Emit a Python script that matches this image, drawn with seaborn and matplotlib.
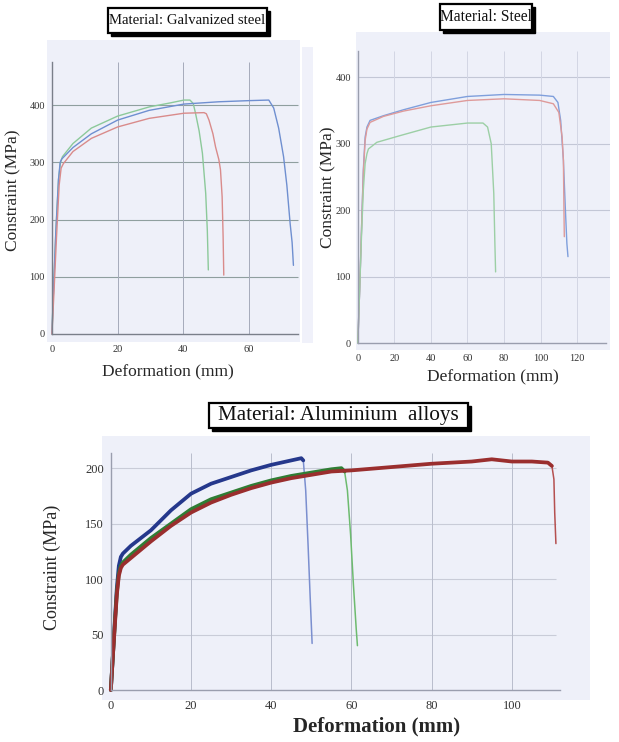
import numpy as np
import pandas as pd
import matplotlib
matplotlib.use("Agg")
import matplotlib.pyplot as plt
import seaborn as sns
from matplotlib.patches import Rectangle
from matplotlib.ticker import MultipleLocator

# ---------------- data ----------------
# Galvanized steel (top-left)
gal_green_x = [0, 0.5, 1.2, 2.0, 2.6, 3.2, 6.4, 12, 20, 29.6, 36, 40.2, 42.0, 43.0, 43.7, 44.8, 45.8, 46.8, 47.3, 47.6]
gal_green_y = [0, 80, 180, 270, 300, 310, 333, 360, 381, 397, 404, 409, 409, 403, 386, 355, 316, 246, 180, 112]
gal_blue_x = [0, 0.5, 1.2, 2.0, 2.5, 3.0, 6.4, 12, 20, 29.6, 40.2, 50.8, 60, 66, 67.5, 69, 70.5, 71.5, 72.5, 73.1, 73.5]
gal_blue_y = [0, 80, 180, 270, 300, 306, 326, 350, 374, 391, 402, 406, 408, 409, 395, 360, 310, 260, 193, 160, 120]
gal_red_x = [0, 0.6, 1.4, 2.2, 2.8, 3.5, 6.4, 12, 20, 29.6, 40.2, 46.3, 47.0, 47.8, 49.0, 49.8, 50.8, 51.3, 51.8, 52.1, 52.3]
gal_red_y = [0, 70, 170, 260, 290, 298, 319, 342, 362, 377, 386, 387, 385, 374, 350, 327, 305, 287, 240, 170, 103]

# Steel (top-right)
st_blue_x = [0, 1, 2, 3, 4, 5, 6.7, 14, 25, 40, 60, 80, 99.5, 107, 109.5, 111, 112.5, 113.6, 114.4, 115]
st_blue_y = [0, 80, 170, 260, 310, 325, 335, 342, 351, 362, 371, 374, 373, 371, 362, 335, 275, 200, 150, 130]
st_red_x = [0, 1, 2, 3, 4, 5, 6.7, 14, 25, 40, 60, 80, 99.5, 107, 110, 111.8, 112.5, 112.8, 113]
st_red_y = [0, 80, 170, 255, 305, 322, 332, 341, 349, 357, 365, 367.5, 365, 360, 347, 310, 275, 200, 160]
st_green_x = [0, 1, 2, 3, 4, 5, 5.8, 10.4, 23, 40, 60, 68.5, 71, 73, 74.4, 75, 75.4]
st_green_y = [0, 80, 160, 230, 270, 285, 292, 302, 312, 325, 331, 331, 325, 300, 225, 150, 107]

# Aluminium alloys (bottom) - plastic branch and fracture branch
al_blue_x = [0, 0.5, 1, 1.5, 2, 2.5, 3, 5, 10, 15, 20, 25, 30, 35, 40, 45, 47.5, 48.0]
al_blue_y = [0, 30, 62, 92, 112, 120, 123, 130, 144, 162, 177, 186, 192, 198, 203, 207, 209, 207]
al_blue_drop_x = [48.0, 48.6, 49.2, 49.7, 50.2]
al_blue_drop_y = [207, 180, 130, 85, 42]
al_green_x = [0, 0.5, 1, 1.5, 2, 2.5, 3, 5, 10, 15, 20, 25, 30, 35, 40, 45, 50, 55, 57.5, 58.3]
al_green_y = [0, 30, 60, 88, 105, 112, 115, 122, 137, 150, 163, 172, 178, 184, 189, 193, 196, 199, 200, 197]
al_green_drop_x = [58.3, 59.0, 59.8, 60.5, 61.2, 61.5]
al_green_drop_y = [197, 180, 140, 95, 55, 40]
al_red_x = [0, 0.5, 1, 1.5, 2, 2.5, 3, 5, 10, 15, 20, 25, 30, 35, 40, 45, 50, 55, 60, 70, 80, 90, 95, 100, 105, 109, 110]
al_red_y = [0, 30, 58, 86, 103, 110, 113, 119, 134, 148, 160, 169, 176, 182, 187, 191, 194, 197, 198, 201, 204, 206, 208, 206, 206, 205, 202]
al_red_drop_x = [110, 110.5, 110.7, 111.0]
al_red_drop_y = [202, 190, 160, 132]

titles = ["Material: Galvanized steel", "Material: Steel", "Material: Aluminium  alloys"]
xlabel = "Deformation (mm)"
ylabel = "Constraint (MPa)"


def frame(xs, ys, name):
    return pd.DataFrame({"x": xs, "y": ys, "s": name})


# ---------------- style ----------------
sns.set_theme(style="white")
plt.rcParams["font.family"] = ["Liberation Serif", "DejaVu Serif"]

W, H = 619, 742
fig = plt.figure(figsize=(W / 100, H / 100), dpi=100)
BG = "#eef0f9"


def px_axes(l, t, r, b):
    return fig.add_axes([l / W, 1 - b / H, (r - l) / W, (b - t) / H])


def style(ax, xlim, ylim, xmaj, xminor, ymaj, yminor, xspan, yspan,
          hcol, vcol, hspan, axcol, fs, xpad=3):
    ax.set_facecolor(BG)
    ax.set_xlim(*xlim)
    ax.set_ylim(*ylim)
    for s in ["top", "right"]:
        ax.spines[s].set_visible(False)
    for s in ["left", "bottom"]:
        ax.spines[s].set_position(("data", 0))
        ax.spines[s].set_color(axcol)
        ax.spines[s].set_linewidth(1.0)
    ax.spines["left"].set_bounds(0, yspan)
    ax.spines["bottom"].set_bounds(0, xspan)
    ax.set_xticks(xmaj)
    ax.set_yticks(ymaj)
    ax.xaxis.set_minor_locator(MultipleLocator(xminor))
    ax.yaxis.set_minor_locator(MultipleLocator(yminor))
    ax.tick_params(which="major", direction="inout", length=4, width=0.8,
                   color=axcol, labelsize=fs, labelcolor="#333333", pad=3)
    ax.tick_params(axis="x", which="major", pad=xpad)
    ax.tick_params(which="minor", direction="inout", length=3, width=0.7, color=axcol)
    ax.hlines(ymaj[1:], 0, hspan, colors=hcol, lw=0.8, zorder=0.5)
    ax.vlines(xmaj[1:], 0, yspan, colors=vcol, lw=0.7, zorder=0.5)
    ax.set_xlabel("")
    ax.set_ylabel("")


def title_box(l, t, r, b, text, fs):
    fig.patches.append(Rectangle(((l + 3) / W, 1 - (b + 3) / H), (r - l) / W, (b - t) / H,
                                 transform=fig.transFigure, facecolor="black",
                                 edgecolor="black", lw=1, zorder=5))
    fig.patches.append(Rectangle((l / W, 1 - b / H), (r - l) / W, (b - t) / H,
                                 transform=fig.transFigure, facecolor="white",
                                 edgecolor="black", lw=1.6, zorder=6))
    fig.text((l + r) / 2 / W, 1 - (t + b) / 2 / H, text, ha="center", va="center",
             fontsize=fs, color="#111111", zorder=7)


# faint scan strip at left of steel panel
fig.patches.append(Rectangle((302 / W, 1 - 343 / H), 11 / W, 296 / H, transform=fig.transFigure,
                             facecolor="#f0f1fa", edgecolor="none", zorder=0))

# ---------- Galvanized steel ----------
ax1 = px_axes(47, 40, 300, 342)
df1 = pd.concat([frame(gal_green_x, gal_green_y, "g"),
                 frame(gal_blue_x, gal_blue_y, "b"),
                 frame(gal_red_x, gal_red_y, "r")])
sns.lineplot(data=df1, x="x", y="y", hue="s", sort=False, estimator=None,
             palette={"g": "#8cc99a", "b": "#6f8fd0", "r": "#d98b8b"},
             lw=1.0, legend=False, ax=ax1)
style(ax1, (-1.5, 75.5), (-14, 514), [0, 20, 40, 60], 5, [0, 100, 200, 300, 400], 20,
      75, 475, "#8f9f9f", "#a5aabb", 75, "#7a7f8a", 7.5, xpad=6)

# ---------- Steel ----------
ax2 = px_axes(356, 32, 610, 350)
df2 = pd.concat([frame(st_blue_x, st_blue_y, "b"),
                 frame(st_red_x, st_red_y, "r"),
                 frame(st_green_x, st_green_y, "g")])
sns.lineplot(data=df2, x="x", y="y", hue="s", sort=False, estimator=None,
             palette={"g": "#9ccfa5", "b": "#7f9fdc", "r": "#de9a9a"},
             lw=1.0, legend=False, ax=ax2)
style(ax2, (-1, 138), (-10.5, 468), [0, 20, 40, 60, 80, 100, 120], 10,
      [0, 100, 200, 300, 400], 20, 136, 440, "#c3c7d6", "#d3d6e4", 138, "#9a9eae", 7.5, xpad=6)

# ---------- Aluminium ----------
ax3 = px_axes(102, 436, 590, 700)
df3 = pd.concat([frame(al_blue_x, al_blue_y, "b"),
                 frame(al_green_x, al_green_y, "g"),
                 frame(al_red_x, al_red_y, "r")])
df3d = pd.concat([frame(al_blue_drop_x, al_blue_drop_y, "b"),
                  frame(al_green_drop_x, al_green_drop_y, "g"),
                  frame(al_red_drop_x, al_red_drop_y, "r")])
sns.lineplot(data=df3d, x="x", y="y", hue="s", sort=False, estimator=None,
             palette={"b": "#7b8fcf", "g": "#6dbb6f", "r": "#b55050"},
             lw=1.1, legend=False, ax=ax3)
sns.lineplot(data=df3, x="x", y="y", hue="s", sort=False, estimator=None,
             palette={"b": "#25388c", "g": "#2f7d34", "r": "#9a2e2e"},
             lw=2.7, legend=False, ax=ax3)
style(ax3, (-2.2, 119.5), (-9, 229), [0, 20, 40, 60, 80, 100], 10,
      [0, 50, 100, 150, 200], 10, 112, 214, "#c9ccd8", "#b9bdcc", 111, "#9a9eae", 9, xpad=5)

# ---------- axis labels ----------
fig.text(13 / W, 1 - 190 / H, ylabel, rotation=90, ha="center", va="center", fontsize=12.5)
fig.text(168 / W, 1 - 372 / H, xlabel, ha="center", va="center", fontsize=12.5)
fig.text(328 / W, 1 - 187 / H, ylabel, rotation=90, ha="center", va="center", fontsize=12.5)
fig.text(493 / W, 1 - 377 / H, xlabel, ha="center", va="center", fontsize=12.5)
fig.text(52 / W, 1 - 567 / H, ylabel, rotation=90, ha="center", va="center", fontsize=13)
fig.text(377 / W, 1 - 726 / H, xlabel, ha="center", va="center", fontsize=15, fontweight="bold")

# ---------- title boxes ----------
title_box(108, 8, 267, 33, titles[0], 10.6)
title_box(440, 4, 532, 30, titles[1], 11.2)
title_box(209, 403, 468, 428, titles[2], 15.2)

fig.savefig("out.png", dpi=100)
